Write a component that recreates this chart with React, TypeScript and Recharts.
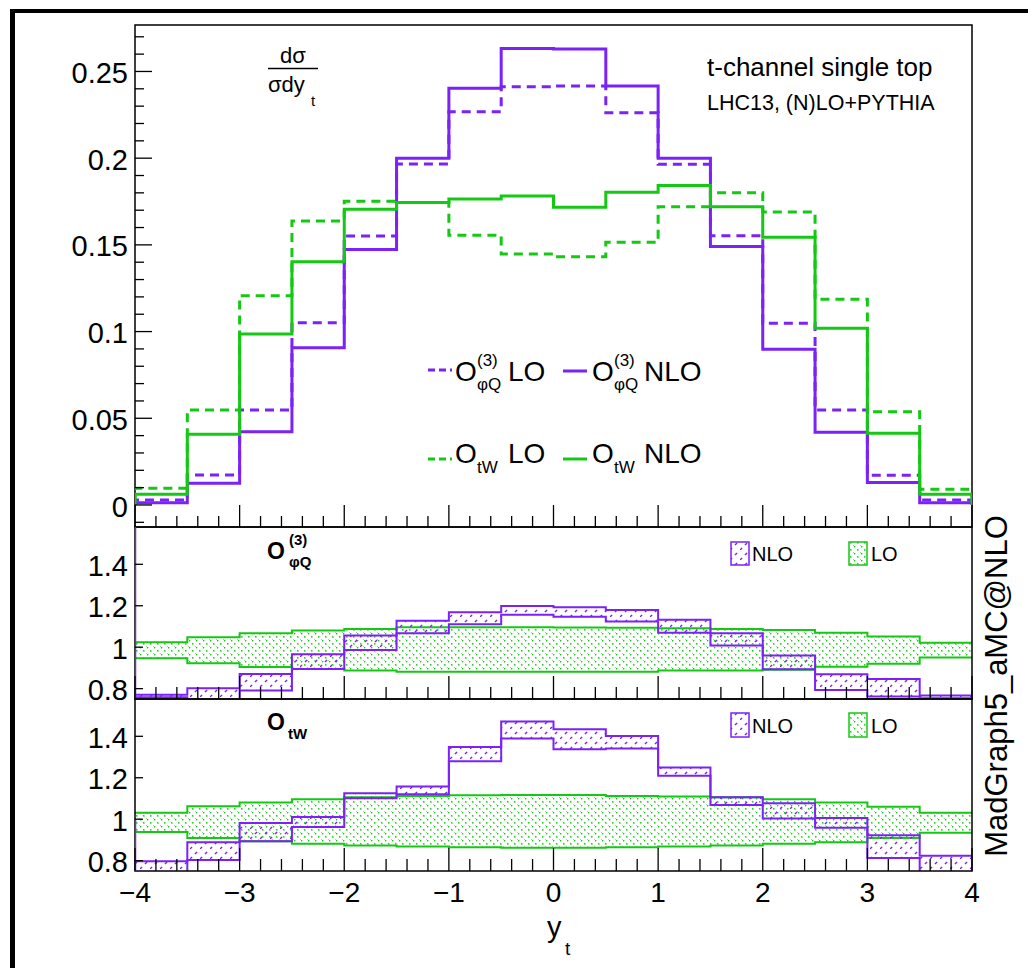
import React from 'react';
import { ComposedChart, Line, Area, XAxis, YAxis, ReferenceArea, ReferenceLine } from 'recharts';

// ---------- data ----------
const binEdges = [-4, -3.5, -3, -2.5, -2, -1.5, -1, -0.5, 0, 0.5, 1, 1.5, 2, 2.5, 3, 3.5, 4];

// top panel: normalised dsigma/dy_t
const phiQ_LO = [0.0029, 0.0173, 0.0548, 0.1051, 0.1551, 0.1967, 0.2268, 0.2412, 0.2416, 0.2262, 0.1965, 0.1553, 0.1048, 0.0548, 0.0171, 0.0029];
const phiQ_NLO = [0.0013, 0.0125, 0.0423, 0.0907, 0.1474, 0.2, 0.2403, 0.2632, 0.263, 0.2416, 0.2, 0.149, 0.0898, 0.0419, 0.0129, 0.0013];
const tW_LO = [0.0096, 0.0548, 0.1207, 0.1638, 0.1751, 0.1744, 0.1555, 0.1448, 0.1432, 0.1515, 0.172, 0.1801, 0.169, 0.1186, 0.0538, 0.009];
const tW_NLO = [0.0062, 0.0408, 0.0986, 0.1403, 0.1705, 0.1744, 0.1765, 0.1782, 0.1717, 0.1803, 0.1842, 0.172, 0.1544, 0.1019, 0.0413, 0.0062];

// middle panel: O_phiQ ratio bands
const phiQ_ratioNLO_lo = [0.759, 0.745, 0.791, 0.895, 0.987, 1.067, 1.111, 1.156, 1.147, 1.124, 1.07, 1.008, 0.894, 0.794, 0.762, 0.754];
const phiQ_ratioNLO_hi = [0.77, 0.802, 0.871, 0.966, 1.056, 1.128, 1.169, 1.199, 1.193, 1.18, 1.132, 1.067, 0.96, 0.87, 0.846, 0.767];
const phiQ_ratioLO_lo = [0.947, 0.923, 0.905, 0.895, 0.887, 0.882, 0.882, 0.881, 0.881, 0.882, 0.887, 0.887, 0.891, 0.906, 0.92, 0.95];
const phiQ_ratioLO_hi = [1.024, 1.048, 1.067, 1.08, 1.088, 1.096, 1.096, 1.096, 1.095, 1.094, 1.091, 1.088, 1.083, 1.07, 1.051, 1.022];
const phiQ_edge = [0.74, 1.6];

// bottom panel: O_tW ratio bands
const tW_ratioNLO_lo = [0.74, 0.803, 0.894, 0.962, 1.101, 1.12, 1.28, 1.389, 1.337, 1.341, 1.21, 1.068, 1.003, 0.959, 0.813, 0.74];
const tW_ratioNLO_hi = [0.797, 0.889, 0.982, 1.011, 1.125, 1.158, 1.348, 1.472, 1.434, 1.401, 1.25, 1.106, 1.077, 1.006, 0.922, 0.824];
const tW_ratioLO_lo = [0.938, 0.909, 0.893, 0.881, 0.873, 0.868, 0.865, 0.862, 0.862, 0.865, 0.868, 0.873, 0.881, 0.889, 0.909, 0.935];
const tW_ratioLO_hi = [1.031, 1.063, 1.081, 1.096, 1.106, 1.112, 1.116, 1.117, 1.117, 1.112, 1.11, 1.106, 1.096, 1.081, 1.06, 1.031];
const tW_edge = [0.74, 1.0];

// axes
const xMajorTicks = [-4, -3, -2, -1, 0, 1, 2, 3, 4];
const xTickLabels = ['\u22124', '\u22123', '\u22122', '\u22121', '0', '1', '2', '3', '4'];
const topYMajorTicks = [0, 0.05, 0.1, 0.15, 0.2, 0.25];
const topYTickLabels = ['0', '0.05', '0.1', '0.15', '0.2', '0.25'];
const ratioYTicks = [0.8, 1, 1.2, 1.4];
const ratioYTickLabels = ['0.8', '1', '1.2', '1.4'];
const topYDomain = [-0.0127, 0.2768];
const ratioYDomain = [0.75, 1.58];

// minor tick positions (axis subdivisions)
const xAllTicks: number[] = [];
for (let i = -20; i <= 20; i++) xAllTicks.push(i / 5);
const topYAllTicks: number[] = [];
for (let i = -1; i <= 27; i++) topYAllTicks.push(i / 100);

// ---------- styles ----------
const FONT = '"Liberation Sans", Arial, Helvetica, sans-serif';
const PURPLE = '#7B22F8';
const GREEN = '#14C814';
const PAD = 20;

function histData(vals: number[]) {
  const n = binEdges.length - 1;
  const pts: { x: number; y: number }[] = [{ x: binEdges[0], y: 0 }];
  vals.forEach((v, i) => pts.push({ x: binEdges[i], y: v }));
  pts.push({ x: binEdges[n], y: vals[n - 1] });
  pts.push({ x: binEdges[n], y: 0 });
  return pts;
}
function bandData(lo: number[], hi: number[]) {
  const n = binEdges.length - 1;
  const pts = lo.map((l, i) => ({ x: binEdges[i], r: [l, hi[i]] }));
  pts.push({ x: binEdges[n], r: [lo[n - 1], hi[n - 1]] });
  return pts;
}

const near = (a: number, b: number) => Math.abs(a - b) < 1e-6;

const makeXTick = (majorLen: number, minorLen: number, withLabels: boolean) => (props: any) => {
  const { x, y, payload } = props;
  const v = payload.value;
  const idx = xMajorTicks.findIndex((m) => near(m, v));
  const isMajor = idx >= 0;
  const len = isMajor ? majorLen : minorLen;
  return (
    <g>
      <line x1={x} x2={x} y1={y} y2={y - len} stroke="#000" strokeWidth={1.3} />
      {withLabels && isMajor && (
        <text x={x} y={y + 31} textAnchor="middle" fontSize={28} fontFamily={FONT} fill="#000">
          {xTickLabels[idx]}
        </text>
      )}
    </g>
  );
};

const makeYTick = (majors: number[], labels: string[], majorLen: number, minorLen: number) => (props: any) => {
  const { x, y, payload } = props;
  const v = payload.value;
  const idx = majors.findIndex((m) => near(m, v));
  const isMajor = idx >= 0;
  const len = isMajor ? majorLen : minorLen;
  return (
    <g>
      <line x1={x} x2={x + len} y1={y} y2={y} stroke="#000" strokeWidth={1.3} />
      {isMajor && (
        <text x={x - 7} y={y} dy="0.4em" textAnchor="end" fontSize={29} fontFamily={FONT} fill="#000">
          {labels[idx]}
        </text>
      )}
    </g>
  );
};

const topXTick = makeXTick(22, 11, false);
const midXTick = makeXTick(23, 12, false);
const botXTick = makeXTick(23, 12, true);
const topYTick = makeYTick(topYMajorTicks, topYTickLabels, 17, 9);
const ratioYTick = makeYTick(ratioYTicks, ratioYTickLabels, 8, 4);

const Patterns = () => (
  <svg width={0} height={0} style={{ position: 'absolute' }}>
    <defs>
      <pattern id="hatchP" patternUnits="userSpaceOnUse" width={10} height={10}>
        <path d="M0,10 L10,0" stroke={PURPLE} strokeWidth={1.4} strokeDasharray="3 4" />
      </pattern>
      <pattern id="hatchG" patternUnits="userSpaceOnUse" width={7} height={7}>
        <path d="M0,0 L7,7" stroke={GREEN} strokeWidth={1.4} strokeDasharray="1.6 3" />
      </pattern>
    </defs>
  </svg>
);

function TopPanel() {
  return (
    <ComposedChart width={1028} height={25 + 502 + 1 + PAD} margin={{ top: 25, right: 56, bottom: PAD, left: 0 }}>
      <XAxis type="number" dataKey="x" domain={[-4, 4]} ticks={xAllTicks} interval={0} height={1}
        tickSize={0} tickMargin={0} tickLine={false} axisLine={false} tick={topXTick} allowDataOverflow />
      <YAxis type="number" domain={topYDomain} ticks={topYAllTicks} interval={0} width={135}
        tickSize={0} tickMargin={0} tickLine={false} axisLine={false} tick={topYTick} allowDataOverflow />
      <ReferenceArea x1={-4} x2={4} y1={topYDomain[0]} y2={topYDomain[1]} fill="none" stroke="#000" strokeWidth={1.5} ifOverflow="visible" />
      <Line type="stepAfter" data={histData(phiQ_LO)} dataKey="y" stroke={PURPLE} strokeWidth={3} strokeDasharray="9 6" dot={false} activeDot={false} isAnimationActive={false} />
      <Line type="stepAfter" data={histData(tW_LO)} dataKey="y" stroke={GREEN} strokeWidth={3} strokeDasharray="9 6" dot={false} activeDot={false} isAnimationActive={false} />
      <Line type="stepAfter" data={histData(phiQ_NLO)} dataKey="y" stroke={PURPLE} strokeWidth={3} dot={false} activeDot={false} isAnimationActive={false} />
      <Line type="stepAfter" data={histData(tW_NLO)} dataKey="y" stroke={GREEN} strokeWidth={3} dot={false} activeDot={false} isAnimationActive={false} />
    </ComposedChart>
  );
}

function RatioPanel(props: { nloLo: number[]; nloHi: number[]; loLo: number[]; loHi: number[]; edge: number[]; bottom: boolean }) {
  const { nloLo, nloHi, loLo, loHi, edge, bottom } = props;
  const mb = bottom ? 97 : PAD;
  return (
    <ComposedChart width={1028} height={PAD + 172 + 1 + mb} margin={{ top: PAD, right: 56, bottom: mb, left: 0 }}>
      <XAxis type="number" dataKey="x" domain={[-4, 4]} ticks={xAllTicks} interval={0} height={1}
        tickSize={0} tickMargin={0} tickLine={false} axisLine={false} tick={bottom ? botXTick : midXTick} allowDataOverflow />
      <YAxis type="number" domain={ratioYDomain} ticks={ratioYTicks} interval={0} width={135}
        tickSize={0} tickMargin={0} tickLine={false} axisLine={false} tick={ratioYTick} allowDataOverflow />
      <Area type="stepAfter" data={bandData(loLo, loHi)} dataKey="r" fill="url(#hatchG)" fillOpacity={1} stroke={GREEN} strokeWidth={2} dot={false} activeDot={false} isAnimationActive={false} />
      <Area type="stepAfter" data={bandData(nloLo, nloHi)} dataKey="r" fill="url(#hatchP)" fillOpacity={1} stroke={PURPLE} strokeWidth={2} dot={false} activeDot={false} isAnimationActive={false} />
      <ReferenceLine segment={[{ x: binEdges[0], y: edge[0] }, { x: binEdges[0], y: edge[1] }]} stroke={PURPLE} strokeWidth={2.5} ifOverflow="hidden" />
      <ReferenceArea x1={-4} x2={4} y1={ratioYDomain[0]} y2={ratioYDomain[1]} fill="none" stroke="#000" strokeWidth={1.5} ifOverflow="visible" />
    </ComposedChart>
  );
}

const T = (p: any) => <text fontFamily={FONT} fill="#000" {...p} />;

function Overlay() {
  return (
    <svg width={1028} height={968} style={{ position: 'absolute', left: 0, top: 0, pointerEvents: 'none' }}>
      {/* outer canvas frame */}
      <rect x={10} y={9} width={1018} height={4} fill="#000" />
      <rect x={10} y={9} width={5} height={959} fill="#000" />

      {/* y-axis quantity */}
      <T x={293} y={63} fontSize={22} textAnchor="middle">dσ</T>
      <line x1={268} x2={318} y1={68.5} y2={68.5} stroke="#000" strokeWidth={1.3} />
      <T x={268} y={92} fontSize={22}>σdy</T>
      <T x={311} y={106} fontSize={15}>t</T>

      {/* header */}
      <T x={707} y={76} fontSize={26}>t-channel single top</T>
      <T x={707} y={110} fontSize={21.5}>LHC13, (N)LO+PYTHIA</T>

      {/* top legend */}
      <line x1={428} x2={452} y1={370} y2={370} stroke={PURPLE} strokeWidth={3} strokeDasharray="7 4" />
      <T x={455} y={381} fontSize={28}>O</T>
      <T x={477} y={366} fontSize={17}>(3)</T>
      <T x={477} y={390} fontSize={17}>φQ</T>
      <T x={508} y={381} fontSize={28}>LO</T>
      <line x1={563} x2={587} y1={371} y2={371} stroke={PURPLE} strokeWidth={3} />
      <T x={592} y={381} fontSize={28}>O</T>
      <T x={614} y={366} fontSize={17}>(3)</T>
      <T x={614} y={390} fontSize={17}>φQ</T>
      <T x={644} y={381} fontSize={28}>NLO</T>

      <line x1={428} x2={452} y1={459} y2={459} stroke={GREEN} strokeWidth={3} strokeDasharray="7 4" />
      <T x={455} y={463} fontSize={28}>O</T>
      <T x={477} y={473} fontSize={17}>tW</T>
      <T x={508} y={463} fontSize={28}>LO</T>
      <line x1={563} x2={587} y1={459} y2={459} stroke={GREEN} strokeWidth={3} />
      <T x={592} y={463} fontSize={28}>O</T>
      <T x={614} y={473} fontSize={17}>tW</T>
      <T x={644} y={463} fontSize={28}>NLO</T>

      {/* middle panel label + legend */}
      <T x={267} y={559} fontSize={23} fontWeight="bold">O</T>
      <T x={289} y={545} fontSize={15} fontWeight="bold">(3)</T>
      <T x={289} y={567} fontSize={15} fontWeight="bold">φQ</T>
      <rect x={731} y={542} width={18} height={23} fill="url(#hatchP)" stroke={PURPLE} strokeWidth={1.5} />
      <T x={752} y={561} fontSize={20}>NLO</T>
      <rect x={849} y={542} width={18} height={23} fill="url(#hatchG)" stroke={GREEN} strokeWidth={1.5} />
      <T x={871} y={561} fontSize={20}>LO</T>

      {/* bottom panel label + legend */}
      <T x={267} y={730} fontSize={23} fontWeight="bold">O</T>
      <T x={288} y={739} fontSize={15} fontWeight="bold">tW</T>
      <rect x={731} y={713} width={18} height={24} fill="url(#hatchP)" stroke={PURPLE} strokeWidth={1.5} />
      <T x={752} y={733} fontSize={20}>NLO</T>
      <rect x={849} y={713} width={18} height={24} fill="url(#hatchG)" stroke={GREEN} strokeWidth={1.5} />
      <T x={871} y={733} fontSize={20}>LO</T>

      {/* x-axis title */}
      <T x={547} y={937} fontSize={29}>y</T>
      <T x={565} y={955} fontSize={19}>t</T>

      {/* generator tag */}
      <T x={1007} y={686} fontSize={31} textAnchor="middle" transform="rotate(-90 1007 686)">MadGraph5_aMC@NLO</T>
    </svg>
  );
}

export default function App() {
  return (
    <div style={{ position: 'absolute', left: 0, top: 0, width: 1028, height: 968, background: '#fff', fontFamily: FONT }}>
      <Patterns />
      <div style={{ position: 'absolute', left: 0, top: 0 }}>
        <TopPanel />
      </div>
      <div style={{ position: 'absolute', left: 0, top: 527 - PAD }}>
        <RatioPanel nloLo={phiQ_ratioNLO_lo} nloHi={phiQ_ratioNLO_hi} loLo={phiQ_ratioLO_lo} loHi={phiQ_ratioLO_hi} edge={phiQ_edge} bottom={false} />
      </div>
      <div style={{ position: 'absolute', left: 0, top: 699 - PAD }}>
        <RatioPanel nloLo={tW_ratioNLO_lo} nloHi={tW_ratioNLO_hi} loLo={tW_ratioLO_lo} loHi={tW_ratioLO_hi} edge={tW_edge} bottom={true} />
      </div>
      <Overlay />
    </div>
  );
}
